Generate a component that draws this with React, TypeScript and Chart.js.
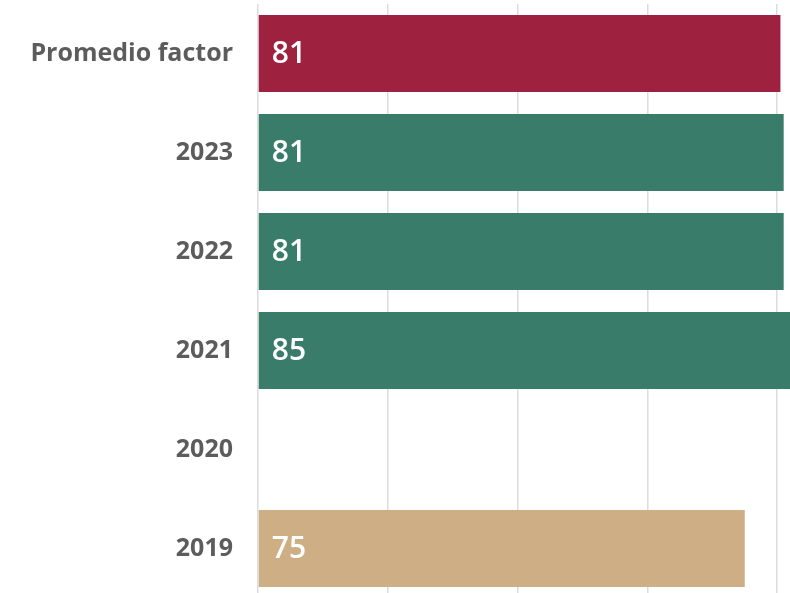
import React, { useEffect, useRef } from "react";
import { Chart, registerables } from "chart.js";

Chart.register(...registerables);

const categories: string[] = ["Promedio factor", "2023", "2022", "2021", "2020", "2019"];
const values: (number | null)[] = [80.5, 81, 81, 85, null, 75];
const barColors: string[] = ["#9E2240", "#3A7C6A", "#3A7C6A", "#3A7C6A", "#3A7C6A", "#CDAE85"];
const xTicks: number[] = [0, 20, 40, 60, 80, 100];

const FONT = "'Open Sans', sans-serif";

const valueLabelPlugin = {
  id: "valueLabels",
  afterDatasetsDraw(chart: any) {
    const ctx = chart.ctx;
    const meta = chart.getDatasetMeta(0);
    ctx.save();
    ctx.fillStyle = "#ffffff";
    ctx.font = `600 30px ${FONT}`;
    ctx.textAlign = "left";
    ctx.textBaseline = "middle";
    meta.data.forEach((bar: any, i: number) => {
      const v = values[i];
      if (v === null || v === undefined) return;
      ctx.fillText(String(Math.round(v)), bar.base + 13, bar.y + 1);
    });
    ctx.restore();
  },
};

export default function App() {
  const canvasRef = useRef<HTMLCanvasElement | null>(null);

  useEffect(() => {
    if (!canvasRef.current) return;
    const chart = new Chart(canvasRef.current, {
      type: "bar",
      data: {
        labels: categories,
        datasets: [
          {
            data: values,
            backgroundColor: barColors,
            borderWidth: 0,
            barPercentage: 0.78,
            categoryPercentage: 1,
          },
        ],
      },
      options: {
        indexAxis: "y",
        responsive: true,
        maintainAspectRatio: false,
        animation: false,
        layout: { padding: { top: 4, right: 0, bottom: 0, left: 0 } },
        plugins: {
          legend: { display: false },
          tooltip: { enabled: false },
        },
        scales: {
          x: {
            min: xTicks[0],
            max: xTicks[xTicks.length - 1],
            afterBuildTicks: (scale: any) => {
              scale.ticks = xTicks.map((v) => ({ value: v }));
            },
            afterFit: (scale: any) => {
              scale.height = 0;
              scale.paddingLeft = 0;
              scale.paddingRight = 0;
            },
            ticks: { display: false },
            grid: { color: "#dcdcdc", lineWidth: 1.5, drawTicks: false },
            border: { display: false },
          },
          y: {
            afterFit: (scale: any) => {
              scale.width = 258;
              scale.paddingTop = 0;
              scale.paddingBottom = 0;
            },
            ticks: {
              color: "#5c5c5c",
              padding: 25,
              font: { family: FONT, size: 25, weight: "bold" },
            },
            grid: { display: false, drawTicks: false },
            border: { display: false },
          },
        },
      },
      plugins: [valueLabelPlugin],
    });
    return () => chart.destroy();
  }, []);

  return (
    <div
      style={{
        position: "fixed",
        left: 0,
        top: 0,
        width: 790,
        height: 593,
        overflow: "hidden",
        background: "#ffffff",
      }}
    >
      <div style={{ position: "absolute", left: 0, top: 0, width: 907, height: 598 }}>
        <canvas ref={canvasRef} />
      </div>
    </div>
  );
}
